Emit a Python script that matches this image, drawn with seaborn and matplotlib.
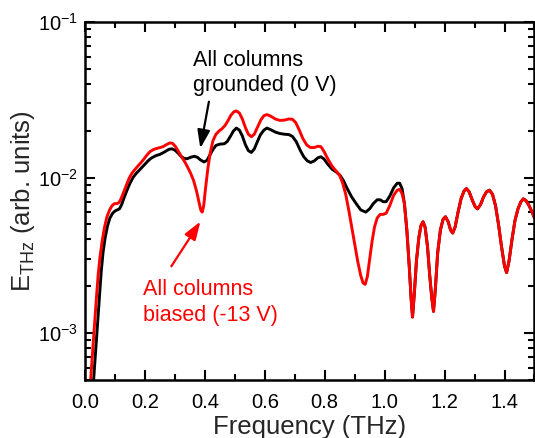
import numpy as np
import pandas as pd
import matplotlib
matplotlib.use("Agg")
import matplotlib.pyplot as plt
from matplotlib.ticker import MultipleLocator, LogLocator, NullFormatter
import seaborn as sns

# values (frequency in THz, field in arb. units)
# the two curves are identical above ~1.06 THz
freq_tail = [
    1.066, 1.074, 1.082, 1.088, 1.093, 1.099, 1.106, 1.114, 1.121, 1.128,
    1.135, 1.143, 1.150, 1.157, 1.163, 1.169, 1.177, 1.186, 1.195, 1.203,
    1.212, 1.220, 1.227, 1.235, 1.245, 1.255, 1.265, 1.273, 1.282, 1.292,
    1.302, 1.310, 1.320, 1.330, 1.340, 1.350, 1.360, 1.370, 1.380, 1.390,
    1.400, 1.407, 1.415, 1.425, 1.435, 1.445, 1.455, 1.463, 1.472, 1.482,
    1.492, 1.500,
]
e_tail = [
    6.8e-3, 4.6e-3, 2.7e-3, 1.7e-3, 1.27e-3, 1.8e-3, 2.9e-3, 4.1e-3, 4.9e-3, 5.2e-3,
    4.8e-3, 3.6e-3, 2.4e-3, 1.7e-3, 1.38e-3, 1.9e-3, 3.3e-3, 4.6e-3, 5.4e-3, 5.6e-3,
    5.2e-3, 4.6e-3, 4.4e-3, 4.8e-3, 6.0e-3, 7.3e-3, 8.2e-3, 8.5e-3, 8.1e-3, 7.2e-3,
    6.5e-3, 6.3e-3, 6.7e-3, 7.5e-3, 8.1e-3, 8.3e-3, 7.8e-3, 6.6e-3, 5.0e-3, 3.6e-3,
    2.7e-3, 2.45e-3, 2.9e-3, 4.0e-3, 5.3e-3, 6.3e-3, 7.0e-3, 7.3e-3, 7.1e-3, 6.6e-3,
    6.0e-3, 5.5e-3,
]

freq_grounded = [
    0.025, 0.030, 0.036, 0.042, 0.048, 0.054, 0.060, 0.067, 0.075, 0.083,
    0.092, 0.100, 0.108, 0.115, 0.122, 0.130, 0.140, 0.150, 0.160, 0.170,
    0.180, 0.190, 0.200, 0.210, 0.220, 0.235, 0.250, 0.265, 0.280, 0.290,
    0.300, 0.310, 0.320, 0.330, 0.340, 0.352, 0.365, 0.375, 0.385, 0.397,
    0.407, 0.417, 0.427, 0.437, 0.450, 0.465, 0.475, 0.485, 0.495, 0.505,
    0.515, 0.525, 0.535, 0.545, 0.555, 0.565, 0.575, 0.585, 0.597, 0.607,
    0.620, 0.635, 0.650, 0.665, 0.680, 0.692, 0.705, 0.718, 0.730, 0.742,
    0.753, 0.765, 0.777, 0.787, 0.797, 0.810, 0.825, 0.840, 0.850, 0.862,
    0.875, 0.890, 0.905, 0.920, 0.937, 0.950, 0.962, 0.975, 0.985, 0.995,
    1.005, 1.017, 1.030, 1.042, 1.050, 1.058,
] + freq_tail
e_grounded = [
    4.0e-4, 5.5e-4, 8.0e-4, 1.2e-3, 1.7e-3, 2.5e-3, 3.3e-3, 4.1e-3, 4.9e-3, 5.5e-3,
    5.9e-3, 6.1e-3, 6.2e-3, 6.3e-3, 6.7e-3, 7.4e-3, 8.3e-3, 9.2e-3, 1.00e-2, 1.06e-2,
    1.11e-2, 1.16e-2, 1.22e-2, 1.28e-2, 1.33e-2, 1.38e-2, 1.41e-2, 1.46e-2, 1.52e-2, 1.53e-2,
    1.50e-2, 1.44e-2, 1.37e-2, 1.33e-2, 1.32e-2, 1.35e-2, 1.37e-2, 1.35e-2, 1.30e-2, 1.26e-2,
    1.29e-2, 1.40e-2, 1.52e-2, 1.61e-2, 1.64e-2, 1.65e-2, 1.71e-2, 1.84e-2, 1.99e-2, 2.08e-2,
    2.02e-2, 1.85e-2, 1.63e-2, 1.49e-2, 1.45e-2, 1.53e-2, 1.70e-2, 1.88e-2, 2.02e-2, 2.08e-2,
    2.03e-2, 1.96e-2, 1.92e-2, 1.90e-2, 1.89e-2, 1.84e-2, 1.70e-2, 1.50e-2, 1.36e-2, 1.28e-2,
    1.25e-2, 1.28e-2, 1.34e-2, 1.36e-2, 1.32e-2, 1.22e-2, 1.13e-2, 1.08e-2, 1.04e-2, 9.6e-3,
    8.5e-3, 7.5e-3, 6.8e-3, 6.2e-3, 6.0e-3, 6.3e-3, 6.8e-3, 7.2e-3, 7.2e-3, 7.0e-3,
    7.0e-3, 7.6e-3, 8.6e-3, 9.2e-3, 9.2e-3, 8.5e-3,
] + e_tail

freq_biased = [
    0.015, 0.020, 0.026, 0.032, 0.038, 0.044, 0.050, 0.057, 0.065, 0.073,
    0.082, 0.090, 0.098, 0.106, 0.113, 0.120, 0.128, 0.137, 0.147, 0.157,
    0.167, 0.177, 0.187, 0.197, 0.207, 0.217, 0.230, 0.245, 0.260, 0.272,
    0.283, 0.292, 0.302, 0.312, 0.322, 0.332, 0.342, 0.352, 0.362, 0.372,
    0.380, 0.386, 0.391, 0.396, 0.402, 0.410, 0.418, 0.427, 0.437, 0.447,
    0.457, 0.467, 0.477, 0.487, 0.497, 0.505, 0.515, 0.525, 0.535, 0.545,
    0.555, 0.565, 0.575, 0.587, 0.597, 0.607, 0.620, 0.635, 0.650, 0.665,
    0.680, 0.692, 0.703, 0.715, 0.727, 0.740, 0.752, 0.765, 0.777, 0.787,
    0.797, 0.810, 0.825, 0.840, 0.850, 0.860, 0.870, 0.880, 0.890, 0.900,
    0.910, 0.920, 0.928, 0.935, 0.942, 0.950, 0.958, 0.966, 0.975, 0.985,
    0.995, 1.005, 1.017, 1.030, 1.042, 1.050, 1.058,
] + freq_tail
e_biased = [
    4.0e-4, 5.5e-4, 8.0e-4, 1.2e-3, 1.7e-3, 2.4e-3, 3.1e-3, 3.9e-3, 4.8e-3, 5.6e-3,
    6.2e-3, 6.6e-3, 6.8e-3, 6.8e-3, 6.9e-3, 7.3e-3, 8.0e-3, 8.9e-3, 9.9e-3, 1.07e-2,
    1.13e-2, 1.19e-2, 1.25e-2, 1.32e-2, 1.40e-2, 1.47e-2, 1.52e-2, 1.55e-2, 1.58e-2, 1.63e-2,
    1.67e-2, 1.66e-2, 1.58e-2, 1.47e-2, 1.36e-2, 1.27e-2, 1.17e-2, 1.07e-2, 9.6e-3, 8.2e-3,
    7.0e-3, 6.2e-3, 6.0e-3, 6.6e-3, 8.5e-3, 1.15e-2, 1.45e-2, 1.73e-2, 1.90e-2, 1.99e-2,
    2.06e-2, 2.16e-2, 2.32e-2, 2.52e-2, 2.65e-2, 2.68e-2, 2.60e-2, 2.38e-2, 2.10e-2, 1.90e-2,
    1.83e-2, 1.90e-2, 2.10e-2, 2.35e-2, 2.50e-2, 2.54e-2, 2.48e-2, 2.38e-2, 2.33e-2, 2.34e-2,
    2.38e-2, 2.37e-2, 2.26e-2, 2.02e-2, 1.78e-2, 1.62e-2, 1.56e-2, 1.56e-2, 1.59e-2, 1.58e-2,
    1.48e-2, 1.32e-2, 1.18e-2, 1.09e-2, 1.03e-2, 9.2e-3, 7.8e-3, 6.2e-3, 4.8e-3, 3.7e-3,
    2.9e-3, 2.35e-3, 2.1e-3, 2.06e-3, 2.3e-3, 3.0e-3, 3.9e-3, 4.8e-3, 5.5e-3, 5.8e-3,
    5.8e-3, 5.9e-3, 6.6e-3, 7.7e-3, 8.3e-3, 8.4e-3, 7.9e-3,
] + e_tail

series_names = ["grounded", "biased"]
series_colors = ["black", "#ff0000"]

df = pd.concat([
    pd.DataFrame(dict(freq=freq_grounded, e=e_grounded, state=series_names[0])),
    pd.DataFrame(dict(freq=freq_biased, e=e_biased, state=series_names[1])),
])

sns.set_style("ticks")
plt.rcParams["font.family"] = ["Liberation Sans", "DejaVu Sans"]
plt.rcParams["mathtext.fontset"] = "custom"
plt.rcParams["mathtext.rm"] = "Liberation Sans"
plt.rcParams["mathtext.default"] = "regular"

fig = plt.figure(figsize=(5.35, 4.38), dpi=100)
ax = fig.add_axes([0.159, 0.1324, 0.840, 0.8174])

sns.lineplot(
    data=df, x="freq", y="e", hue="state",
    palette=dict(zip(series_names, series_colors)),
    estimator=None, sort=True, lw=2.1, legend=False, ax=ax,
)

ax.set_yscale("log")
ax.set_xlim(0, 1.5)
ax.set_ylim(5e-4, 1e-1)

ax.xaxis.set_major_locator(MultipleLocator(0.2))
ax.xaxis.set_minor_locator(MultipleLocator(0.1))
ax.xaxis.set_major_formatter(plt.FuncFormatter(lambda v, p: f"{v:.1f}"))
ax.yaxis.set_major_locator(LogLocator(base=10, numticks=10))
ax.yaxis.set_minor_locator(LogLocator(base=10, subs=np.arange(2, 10), numticks=20))
ax.yaxis.set_minor_formatter(NullFormatter())
ax.yaxis.set_major_formatter(plt.FuncFormatter(lambda v, p: f"$10^{{{int(round(np.log10(v)))}}}$"))

ax.tick_params(which="both", direction="in", top=True, right=True, width=1.5,
               labelsize=14.5, colors="black")
ax.tick_params(which="major", length=7, pad=5)
ax.tick_params(axis="x", which="major", pad=9)
ax.tick_params(which="minor", length=4)
for s in ax.spines.values():
    s.set_linewidth(1.8)
    s.set_color("black")

ax.set_xlabel("Frequency (THz)", fontsize=18.5, labelpad=2.5)
ax.set_ylabel("E$_{THz}$ (arb. units)", fontsize=18.5, labelpad=1)

arrow_style = "-|>,head_length=1.1,head_width=0.38"

ax.text(0.360, 0.047, "All columns\ngrounded (0 V)", fontsize=15.5, color="black",
        ha="left", va="center", linespacing=1.3)
ax.annotate("", xy=(0.383, 0.0148), xytext=(0.415, 0.032),
            arrowprops=dict(arrowstyle=arrow_style, color="black", lw=1.6))

ax.text(0.193, 1.58e-3, "All columns\nbiased (-13 V)", fontsize=15.5, color="#ff0000",
        ha="left", va="center", linespacing=1.3)
ax.annotate("", xy=(0.390, 5.4e-3), xytext=(0.283, 2.6e-3),
            arrowprops=dict(arrowstyle=arrow_style, color="#ff0000", lw=1.6))

fig.savefig("out.png", dpi=100)
